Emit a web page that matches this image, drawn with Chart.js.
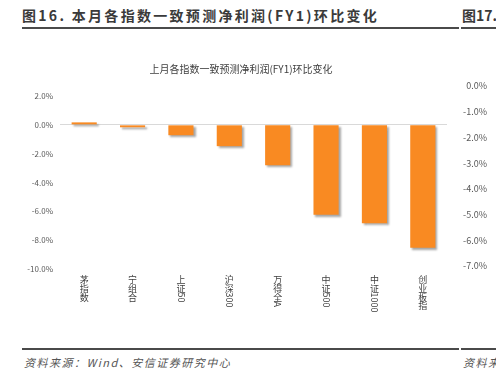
<!DOCTYPE html>
<html>
<head>
<meta charset="utf-8">
<script src="https://cdn.jsdelivr.net/npm/chart.js@4"></script>
<style>
  body { margin: 0; background: #fff; overflow: hidden; width: 496px; height: 378px; position: relative; font-family: "Noto Sans CJK SC", sans-serif; }
  .hdr { position: absolute; top: 5px; font-weight: bold; font-size: 14px; letter-spacing: 2.3px; color: #3a3a3a; white-space: nowrap; }
  .rule { position: absolute; height: 2px; background: #4a4a4a; }
  .src { position: absolute; top: 354px; font-size: 11px; font-style: italic; letter-spacing: 1.5px; color: #555; white-space: nowrap; }
  canvas { position: absolute; top: 0; }
</style>
</head>
<body>
<div class="hdr" style="left:22px">图16. 本月各指数一致预测净利润(FY1)环比变化</div>
<div class="hdr" style="left:462px; letter-spacing:0">图17.</div>
<div class="rule" style="left:22px; top:27px; width:437px"></div>
<div class="rule" style="left:461px; top:27px; width:40px"></div>

<canvas id="main" width="460" height="330" style="left:0"></canvas>
<canvas id="side" width="120" height="330" style="left:440px"></canvas>

<div class="rule" style="left:22px; top:348px; width:437px"></div>
<div class="rule" style="left:461px; top:348px; width:40px"></div>
<div class="src" style="left:24px">资料来源：Wind、安信证券研究中心</div>
<div class="src" style="left:463px">资料来源</div>

<script>
const categories = ['茅指数', '宁组合', '上证50', '沪深300', '万得全A', '中证500', '中证1000', '创业板指'];
const changes = [0.17, -0.17, -0.72, -1.48, -2.8, -6.24, -6.83, -8.52];
const leftTicks = { min: -10, max: 2, step: 2 };
const sideTicks = { min: -7, max: 0, step: 1 };
const chartTitle = '上月各指数一致预测净利润(FY1)环比变化';

const font = '"Noto Sans CJK SC", sans-serif';
const pct = v => v.toFixed(1) + '%';

// bar shadow
const shadow = {
  id: 'shadow',
  beforeDatasetsDraw(chart) {
    const c = chart.ctx;
    c.save();
    c.shadowColor = 'rgba(0,0,0,0.35)';
    c.shadowOffsetX = 2;
    c.shadowOffsetY = 2;
    c.shadowBlur = 2;
  },
  afterDatasetsDraw(chart) { chart.ctx.restore(); }
};

// title + vertical category labels (CJK upright, latin turned)
const extras = {
  id: 'extras',
  afterDraw(chart) {
    const c = chart.ctx;
    c.save();
    c.fillStyle = '#404040';
    c.font = '10px ' + font;
    c.textAlign = 'center';
    c.textBaseline = 'middle';
    c.fillText(chartTitle, 241, 69);

    c.font = '9px ' + font;
    const xs = chart.scales.x;
    categories.forEach((lab, i) => {
      const x = xs.getPixelForValue(i);
      let y = 275;
      const runs = lab.match(/[\x00-\x7f]+|[^\x00-\x7f]/g);
      runs.forEach(r => {
        if (/^[\x00-\x7f]+$/.test(r)) {
          c.save();
          c.translate(x, y);
          c.rotate(Math.PI / 2);
          c.textAlign = 'left';
          c.textBaseline = 'middle';
          c.fillText(r, 0, 0);
          c.restore();
          y += c.measureText(r).width;
        } else {
          c.textAlign = 'center';
          c.textBaseline = 'top';
          c.fillText(r, x, y);
          y += 8.8;
        }
      });
    });
    c.restore();
  }
};

new Chart(document.getElementById('main'), {
  type: 'bar',
  data: {
    labels: categories,
    datasets: [{
      data: changes,
      backgroundColor: '#F98A22',
      categoryPercentage: 1,
      barPercentage: 0.52
    }]
  },
  options: {
    responsive: false,
    animation: false,
    layout: { padding: { left: 0, right: 13, top: 96, bottom: 61 } },
    plugins: { legend: { display: false }, tooltip: { enabled: false } },
    scales: {
      x: {
        ticks: { display: false },
        grid: { display: false },
        border: { display: false },
        afterFit(s) { s.height = 0; }
      },
      y: {
        min: leftTicks.min,
        max: leftTicks.max,
        ticks: { stepSize: leftTicks.step, callback: pct, color: '#595959', font: { size: 8, family: font }, padding: 7 },
        grid: { drawTicks: false, color: ctx => ctx.tick && ctx.tick.value === 0 ? '#D9D9D9' : 'rgba(0,0,0,0)' },
        border: { display: false },
        afterFit(s) { s.width = 60; }
      }
    }
  },
  plugins: [shadow, extras]
});

new Chart(document.getElementById('side'), {
  type: 'bar',
  data: { labels: [], datasets: [] },
  options: {
    responsive: false,
    animation: false,
    layout: { padding: { left: 0, right: 0, top: 86, bottom: 64 } },
    plugins: { legend: { display: false }, tooltip: { enabled: false } },
    scales: {
      x: { display: false },
      y: {
        min: sideTicks.min,
        max: sideTicks.max,
        ticks: { stepSize: sideTicks.step, callback: pct, color: '#595959', font: { size: 9, family: font }, padding: 3 },
        grid: { display: false, drawTicks: false },
        border: { display: false },
        afterFit(s) { s.width = 50; }
      }
    }
  }
});
</script>
</body>
</html>
